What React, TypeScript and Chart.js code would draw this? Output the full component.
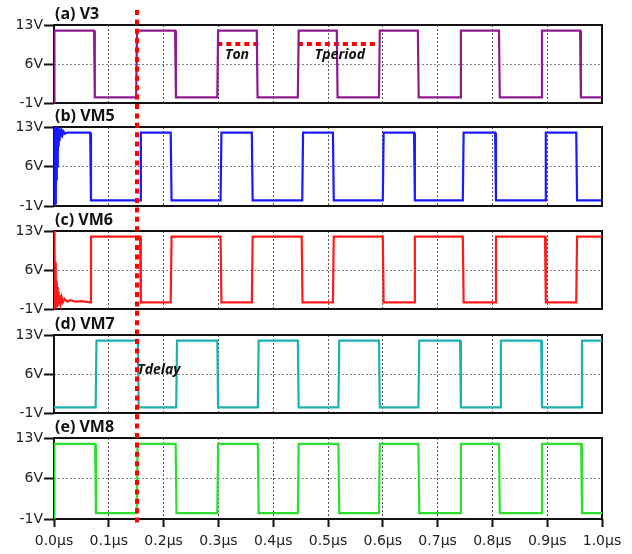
import React, { useEffect, useRef } from 'react';
import { Chart, registerables } from 'chart.js';

Chart.register(...registerables);

// ---------- axis ticks ----------
const X_TICKS = [0, 0.1, 0.2, 0.3, 0.4, 0.5, 0.6, 0.7, 0.8, 0.9, 1.0];
const Y_TICKS = [-1, 6, 13];

// ---------- signal edges (µs) ----------
const V3_EDGES = [0.073, 0.150, 0.221, 0.298, 0.370, 0.445, 0.516, 0.593, 0.664, 0.741, 0.812, 0.889, 0.960];
const V3_START = [{ x: 0, y: -1 }, { x: 0.0008, y: 12 }];

const VM5_EDGES = [0.066, 0.157, 0.213, 0.304, 0.361, 0.453, 0.509, 0.600, 0.657, 0.746, 0.805, 0.896, 0.953];
const VM5_START = [
  { x: 0, y: -1 }, { x: 0.0006, y: 13 }, { x: 0.0012, y: -1 }, { x: 0.0018, y: 13 }, { x: 0.0024, y: -0.5 },
  { x: 0.003, y: 13 }, { x: 0.0036, y: 1 }, { x: 0.0042, y: 13 }, { x: 0.0048, y: 3.5 }, { x: 0.0054, y: 13 },
  { x: 0.006, y: 6 }, { x: 0.0066, y: 12.9 }, { x: 0.0072, y: 8 }, { x: 0.0078, y: 12.8 }, { x: 0.0085, y: 9.5 },
  { x: 0.0093, y: 12.7 }, { x: 0.0102, y: 10.5 }, { x: 0.0112, y: 12.5 }, { x: 0.0124, y: 11.2 }, { x: 0.0138, y: 12.4 },
  { x: 0.0155, y: 11.6 }, { x: 0.0175, y: 12.2 }, { x: 0.02, y: 11.8 }, { x: 0.024, y: 12 },
];

const VM6_EDGES = [0.066, 0.157, 0.213, 0.304, 0.361, 0.452, 0.509, 0.600, 0.657, 0.746, 0.805, 0.896, 0.953];
const VM6_START = [
  { x: 0, y: -1 }, { x: 0.0005, y: 13 }, { x: 0.001, y: -1 }, { x: 0.0015, y: 10 }, { x: 0.002, y: -1 },
  { x: 0.0025, y: 7.5 }, { x: 0.003, y: -0.6 }, { x: 0.0036, y: 5.5 }, { x: 0.0042, y: -0.5 }, { x: 0.0049, y: 4 },
  { x: 0.0056, y: -0.3 }, { x: 0.0064, y: 3 }, { x: 0.0072, y: -0.2 }, { x: 0.0082, y: 2.2 }, { x: 0.0093, y: 0 },
  { x: 0.0106, y: 1.5 }, { x: 0.012, y: 0.1 }, { x: 0.0138, y: 1.1 }, { x: 0.016, y: 0.2 }, { x: 0.019, y: 0.8 },
  { x: 0.024, y: 0.3 }, { x: 0.03, y: 0.6 }, { x: 0.04, y: 0.3 }, { x: 0.05, y: 0.4 },
];

const VM7_EDGES = [0.076, 0.153, 0.223, 0.298, 0.372, 0.445, 0.519, 0.593, 0.665, 0.741, 0.814, 0.889, 0.962];
const VM7_START = [{ x: 0, y: 0 }];

const VM8_EDGES = [0.075, 0.151, 0.222, 0.298, 0.372, 0.445, 0.519, 0.593, 0.665, 0.741, 0.812, 0.889, 0.962];
const VM8_START = [{ x: 0, y: -1 }, { x: 0.0008, y: 12 }];

// high / low levels (V)
const V3_LEVELS = [12, 0];
const VM5_LEVELS = [12, 0];
const VM6_LEVELS = [12, 0.2];
const VM7_LEVELS = [12, 0];
const VM8_LEVELS = [12, 0];

// ---------- annotations ----------
const TON_LINE = [{ x: 0.298, y: 9.6 }, { x: 0.374, y: 9.6 }];
const TPERIOD_LINE = [{ x: 0.445, y: 9.6 }, { x: 0.591, y: 9.6 }];
const TON_LABEL = { text: 'Ton', x: 0.312, y: 7.6 };
const TPERIOD_LABEL = { text: 'Tperiod', x: 0.476, y: 7.6 };
const TDELAY_LABEL = { text: 'Tdelay', x: 0.152, y: 6.8 };
const TDELAY_X = 0.151;

const TITLES = ['(a) V3', '(b) VM5', '(c) VM6', '(d) VM7', '(e) VM8'];
const COLORS = ['#8e1b8e', '#1a1aff', '#ff1a1a', '#1cb2b2', '#2ee02e'];

// ---------- build step series ----------
function buildSteps(start: { x: number; y: number }[], edges: number[], levels: number[], startHigh: boolean) {
  const pts = start.map((p) => ({ ...p }));
  let high = startHigh;
  let level = high ? levels[0] : levels[1];
  const ramp = 0.0015;
  edges.forEach((e) => {
    pts.push({ x: e, y: level });
    high = !high;
    level = high ? levels[0] : levels[1];
    pts.push({ x: e + ramp, y: level });
  });
  pts.push({ x: 1, y: level });
  return pts;
}

const SERIES = [
  buildSteps(V3_START, V3_EDGES, V3_LEVELS, true),
  buildSteps(VM5_START, VM5_EDGES, VM5_LEVELS, true),
  buildSteps(VM6_START, VM6_EDGES, VM6_LEVELS, false),
  buildSteps(VM7_START, VM7_EDGES, VM7_LEVELS, false),
  buildSteps(VM8_START, VM8_EDGES, VM8_LEVELS, true),
];

// layout (pixels)
const W = 632;
const H = 554;
const PANEL_TOPS = [25, 127, 231, 335, 438];
const PANEL_BOTTOMS = [103, 206, 309, 413, 519];

const decoPlugin = {
  id: 'deco',
  beforeDatasetsDraw(chart: any) {
    const { ctx, chartArea } = chart;
    ctx.save();
    ctx.strokeStyle = '#111';
    ctx.lineWidth = 2;
    ctx.setLineDash([]);
    ctx.strokeRect(chartArea.left, chartArea.top, chartArea.right - chartArea.left, chartArea.bottom - chartArea.top);
    ctx.restore();
  },
  afterDraw(chart: any, _args: any, opts: any) {
    const { ctx, chartArea, scales } = chart;
    ctx.save();
    // title
    ctx.fillStyle = '#111';
    ctx.font = 'bold 16px "Open Sans"';
    ctx.textAlign = 'left';
    ctx.textBaseline = 'middle';
    ctx.fillText(opts.title, chartArea.left + 1, chartArea.top - 11);
    // labels
    ctx.font = 'italic bold 14px "Open Sans"';
    (opts.labels || []).forEach((l: any) => {
      ctx.fillText(l.text, scales.x.getPixelForValue(l.x), scales.y.getPixelForValue(l.y));
    });
    // vertical red dotted line
    if (opts.vline !== undefined) {
      const px = Math.round(scales.x.getPixelForValue(opts.vline));
      ctx.strokeStyle = '#ff0000';
      ctx.lineWidth = 4;
      ctx.setLineDash([5, 4.4]);
      ctx.beginPath();
      ctx.moveTo(px, 10);
      ctx.lineTo(px, chartArea.bottom + 6);
      ctx.stroke();
    }
    ctx.restore();
  },
};

function makeConfig(i: number): any {
  const last = i === 4;
  const xH = last ? 35 : 0;
  const datasets: any[] = [
    {
      data: SERIES[i],
      borderColor: COLORS[i],
      borderWidth: 2.2,
      pointRadius: 0,
      tension: 0,
      fill: false,
    },
  ];
  const labels: any[] = [];
  if (i === 0) {
    [TON_LINE, TPERIOD_LINE].forEach((d) =>
      datasets.push({
        data: d,
        borderColor: '#ff0000',
        borderWidth: 4,
        borderDash: [5, 4],
        borderCapStyle: 'butt',
        pointRadius: 0,
        fill: false,
      })
    );
    labels.push(TON_LABEL, TPERIOD_LABEL);
  }
  if (i === 3) labels.push(TDELAY_LABEL);
  return {
    type: 'line',
    data: { datasets },
    options: {
      responsive: false,
      animation: false,
      devicePixelRatio: 1,
      layout: { padding: { top: PANEL_TOPS[i], bottom: H - PANEL_BOTTOMS[i] - xH, left: 0, right: 30 } },
      plugins: {
        legend: { display: false },
        tooltip: { enabled: false },
        deco: { title: TITLES[i], labels, vline: last ? TDELAY_X : undefined },
      },
      scales: {
        x: {
          type: 'linear',
          min: 0,
          max: 1,
          afterBuildTicks: (s: any) => {
            s.ticks = X_TICKS.map((v) => ({ value: v }));
          },
          afterFit: (s: any) => {
            s.height = xH;
          },
          ticks: {
            display: last,
            autoSkip: false,
            maxRotation: 0,
            padding: 6,
            color: '#222',
            font: { family: '"DejaVu Sans"', size: 14 },
            callback: (v: any) => Number(v).toFixed(1) + 'µs',
          },
          grid: {
            color: '#555',
            lineWidth: 1,
            drawTicks: last,
            tickLength: 8,
            tickColor: '#111',
            tickWidth: 2,
            tickBorderDash: [],
          },
          border: { display: false, dash: [2, 2] },
        },
        y: {
          min: -1,
          max: 13,
          afterBuildTicks: (s: any) => {
            s.ticks = Y_TICKS.map((v) => ({ value: v }));
          },
          afterFit: (s: any) => {
            s.width = 54;
          },
          ticks: {
            padding: 1,
            color: '#222',
            font: { family: '"DejaVu Sans"', size: 14 },
            callback: (v: any) => v + 'V',
          },
          grid: {
            color: '#888',
            lineWidth: 1,
            tickLength: 10,
            tickColor: '#111',
            tickWidth: 2,
            tickBorderDash: [],
          },
          border: { display: false, dash: [2, 2] },
        },
      },
    },
    plugins: [decoPlugin],
  };
}

export default function App() {
  const canvases = useRef<(HTMLCanvasElement | null)[]>([]);
  useEffect(() => {
    const charts: Chart[] = [];
    for (let i = 0; i < 5; i++) {
      const c = canvases.current[i];
      if (c) charts.push(new Chart(c, makeConfig(i)));
    }
    return () => charts.forEach((c) => c.destroy());
  }, []);
  return (
    <div style={{ position: 'fixed', left: 0, top: 0, width: W, height: H, background: '#fff' }}>
      {[0, 1, 2, 3, 4].map((i) => (
        <canvas
          key={i}
          width={W}
          height={H}
          ref={(el) => {
            canvases.current[i] = el;
          }}
          style={{ position: 'absolute', left: 0, top: 0, width: W, height: H }}
        />
      ))}
    </div>
  );
}
